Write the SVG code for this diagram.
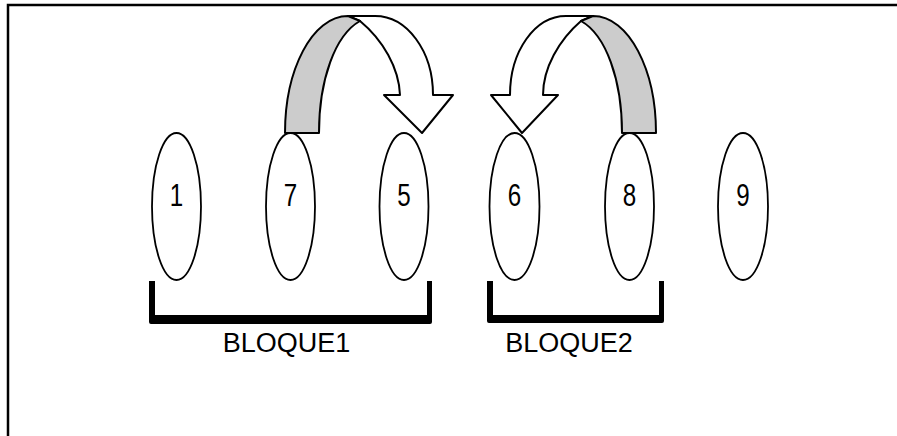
<svg xmlns="http://www.w3.org/2000/svg" width="897" height="436" viewBox="0 0 897 436">
<style>
.frame{fill:none;stroke:#000;stroke-width:2.5}
.node ellipse{fill:#fff;stroke:#000;stroke-width:1.8}
.node text{font-family:"Liberation Sans",Arial,sans-serif;font-size:31px;text-anchor:middle;fill:#000}
.front{fill:#fff;stroke:#000;stroke-width:2;stroke-linejoin:round}
.back{fill:#cccccc;stroke:#000;stroke-width:2;stroke-linejoin:round}
.bracket{fill:#000}
.label{font-family:"Liberation Sans",Arial,sans-serif;font-size:27px;text-anchor:middle;fill:#000}
</style>
<rect width="897" height="436" fill="#fff"/>
<path class="frame" d="M8,436 L8,5 L897,5"/>
<g id="n1" class="node"><ellipse cx="176.5" cy="206.5" rx="24.5" ry="73.5"/><text transform="translate(176.5,206) scale(0.78,1)">1</text></g>
<g id="n7" class="node"><ellipse cx="290.5" cy="206.5" rx="24.5" ry="73.5"/><text transform="translate(290.5,206) scale(0.78,1)">7</text></g>
<g id="n5" class="node"><ellipse cx="404" cy="206.5" rx="24.5" ry="73.5"/><text transform="translate(404,206) scale(0.78,1)">5</text></g>
<g id="n6" class="node"><ellipse cx="514.5" cy="206.5" rx="25" ry="73.5"/><text transform="translate(514.5,206) scale(0.78,1)">6</text></g>
<g id="n8" class="node"><ellipse cx="629.5" cy="206.5" rx="24.5" ry="73.5"/><text transform="translate(629.5,206) scale(0.78,1)">8</text></g>
<g id="n9" class="node"><ellipse cx="743" cy="206.5" rx="25" ry="73.5"/><text transform="translate(743,206) scale(0.78,1)">9</text></g>
<g id="connectors">
<g id="arrow1">
<path class="front" d="M360,21 L348,16 L375,16 C407,16 433,51 433,95 L453,95 L422,133 L384,95 L400,95 C399,68 383,40 360,21 Z"/>
<path class="back" d="M285,133 C285,70 312,16 348,16 L360,21 C335,35 319,80 319,133 Z"/>
</g>
<g id="arrow2">
<path class="front" d="M581,21 L593,16 L566,16 C535,16 510,51 510,95 L491,95 L522,133 L558,95 L543,95 C543,68 559,40 581,21 Z"/>
<path class="back" d="M656,133 C656,70 629,16 593,16 L581,21 C606,35 622,80 622,133 Z"/>
</g>
</g>
<g id="bloque1">
<path class="bracket" d="M149,281 L155,281 L155,315 L427,315 L427,281 L432,281 L432,322 Q432,324 430,324 L151,324 Q149,324 149,322 Z"/>
<text class="label" x="286.5" y="352">BLOQUE1</text>
</g>
<g id="bloque2">
<path class="bracket" d="M487,281 L493,281 L493,315 L659,315 L659,281 L664,281 L664,321 Q664,323 662,323 L489,323 Q487,323 487,321 Z"/>
<text class="label" x="569" y="352">BLOQUE2</text>
</g>
</svg>
